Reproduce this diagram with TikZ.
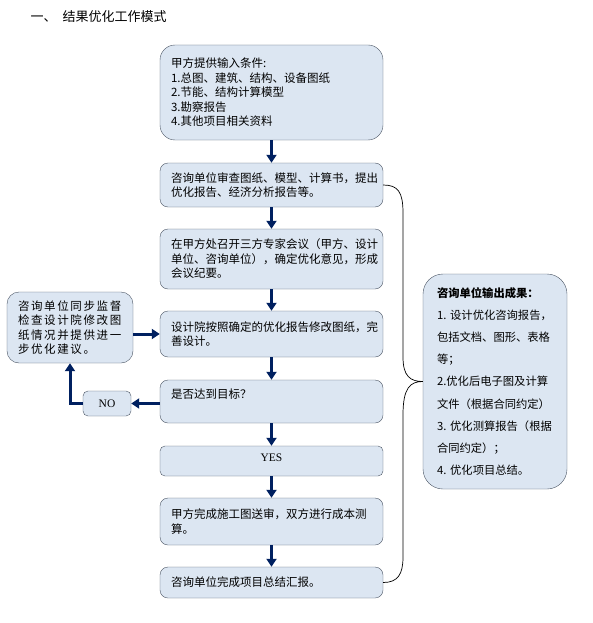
\documentclass[tikz,border=0pt]{standalone}
\usepackage{fontspec}
\setmainfont{Liberation Serif}
\newfontfamily\cjk{Noto Sans CJK SC}
\newfontfamily\cjkwide[LetterSpace=14]{Noto Sans CJK SC}
\usetikzlibrary{arrows.meta, positioning, calc}
\definecolor{boxfill}{RGB}{220,230,242}
\definecolor{boxline}{RGB}{75,85,100}
\definecolor{flownavy}{RGB}{0,32,96}

\begin{document}
\begin{tikzpicture}[
  x=1pt, y=-1pt,
  every node/.style={font=\cjk\fontsize{11.5}{14.5}\selectfont},
  sbox/.style={draw=boxline, fill=boxfill, rounded corners=8pt,
    text width=201pt, inner xsep=11pt, inner ysep=0pt, align=left},
  tbox/.style={draw=boxline, fill=boxfill, rounded corners=5pt,
    inner sep=0pt, font=\rmfamily\fontsize{11.5}{13}\selectfont},
  arr/.style={-{Triangle[width=10pt,length=8pt]}, line width=3pt, flownavy}
]
  \useasboundingbox (0,0) rectangle (592,623);

  % Title
  \node[anchor=west, font=\cjk\fontsize{13}{15}\selectfont] (title) at (27,17)
    {一、\hspace{6pt}结果优化工作模式};

  % Main flow
  \node[sbox, rounded corners=15pt, minimum height=95pt] (input) at (271.5,92.5)
    {甲方提供输入条件:\\1.总图、建筑、结构、设备图纸\\2.节能、结构计算模型\\3.勘察报告\\4.其他项目相关资料};
  \node[sbox, minimum height=44pt] (review) at (271.5,185)
    {咨询单位审查图纸、模型、计算书，提出\\优化报告、经济分析报告等。};
  \node[sbox, minimum height=60pt] (meet) at (271.5,259)
    {在甲方处召开三方专家会议（甲方、设计\\单位、咨询单位），确定优化意见，形成\\会议纪要。};
  \node[sbox, minimum height=46pt] (revise) at (271.5,334)
    {设计院按照确定的优化报告修改图纸，完\\善设计。};
  \node[sbox, minimum height=43pt] (goal) at (271.5,401.5)
    {\raisebox{7pt}[\height][\depth]{是否达到目标？}};
  \node[tbox, minimum width=223pt, minimum height=30pt] (yes) at (271.5,461)
    {\raisebox{3pt}[\height][\depth]{YES}};
  \node[sbox, minimum height=47pt] (cost) at (271.5,521.5)
    {甲方完成施工图送审，双方进行成本测\\算。};
  \node[sbox, minimum height=31pt] (summary) at (271.5,582.5)
    {咨询单位完成项目总结汇报。};

  % Feedback loop
  \node[sbox, rounded corners=12pt, text width=104pt, inner xsep=11pt,
        minimum height=71pt, font=\cjkwide\fontsize{11.5}{14.3}\selectfont] (check) at (70,327.5)
    {咨询单位同步监督\\检查设计院修改图\\纸情况并提供进一\\步优化建议。};
  \node[tbox, minimum width=48pt, minimum height=25pt] (no) at (107,403.5) {NO};

  % Outputs
  \node[sbox, rounded corners=20pt, text width=124pt, inner xsep=10pt,
        minimum height=215pt, font=\cjk\fontsize{11.3}{22.2}\selectfont] (output) at (495,381.5)
    {\hspace{4pt}{\bfseries 咨询单位输出成果：}\\\hspace{4pt}\mbox{1.~设计优化咨询报告，}\\\hspace{4pt}包括文档、图形、表格\\\hspace{4pt}等；\\\hspace{4pt}\mbox{2.优化后电子图及计算}\\\hspace{4pt}文件（根据合同约定）\\\hspace{4pt}\mbox{3.~优化测算报告（根据}\\\hspace{4pt}合同约定）；\\\hspace{4pt}\mbox{4.~优化项目总结。}};

  \draw[arr] (input) -- (review);
  \draw[arr] (review) -- (meet);
  \draw[arr] (meet) -- (revise);
  \draw[arr] (revise) -- (goal);
  \draw[arr] (goal) -- (yes);
  \draw[arr] (yes) -- (cost);
  \draw[arr] (cost) -- (summary);
  \draw[arr] (goal.west |- no.east) -- (no.east);
  \draw[arr] (no.west) -| (check.south);
  \draw[arr] (check.east |- revise.west) -- (revise.west);

  % Brace to outputs
  \draw[black, line width=0.7pt]
    (review.east) .. controls (398,185) and (403,192) .. (403,213)
    -- (403,357) .. controls (403,376) and (410,381.5) .. (output.west)
    .. controls (410,381.5) and (403,388) .. (403,415)
    -- (403,557) .. controls (403,574) and (398,582.5) .. (summary.east);
\end{tikzpicture}
\end{document}
